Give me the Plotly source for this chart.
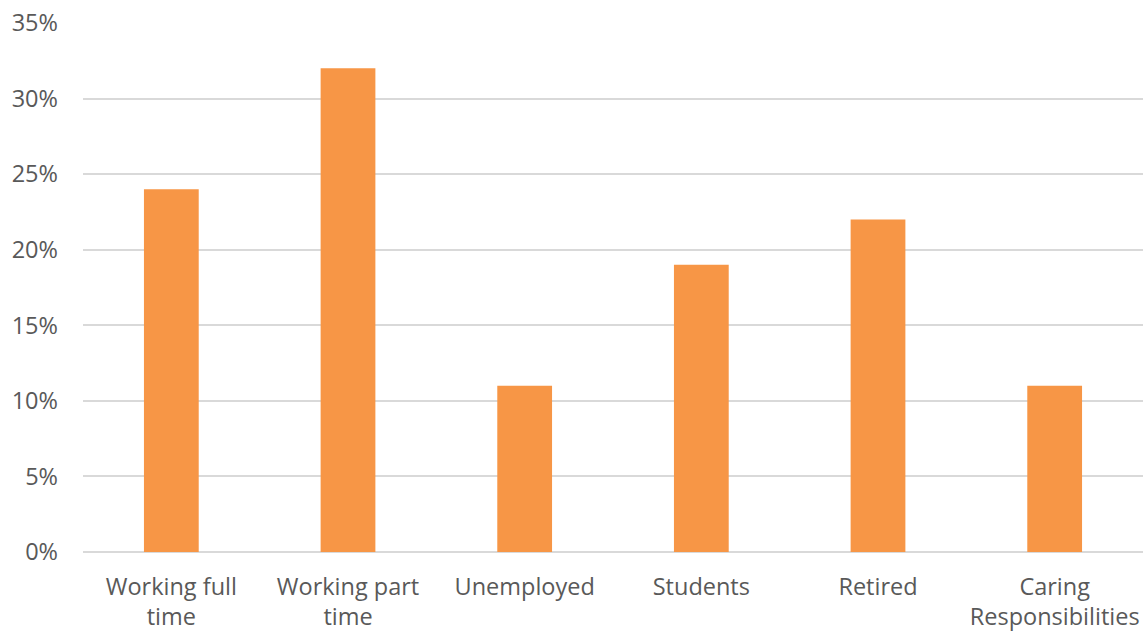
import plotly.graph_objects as go

categories = ["Working full<br>time", "Working part<br>time", "Unemployed", "Students", "Retired", "Caring<br>Responsibilities"]
values = [0.24, 0.32, 0.11, 0.19, 0.22, 0.11]
tick_vals = [0, 0.05, 0.10, 0.15, 0.20, 0.25, 0.30, 0.35]
tick_text = ["0%", "5%", "10%", "15%", "20%", "25%", "30%", "35%"]

fig = go.Figure(go.Bar(x=categories, y=values, marker=dict(color="#F79646", line=dict(width=0))))

fig.update_layout(
    width=1145, height=634,
    margin=dict(l=83, r=2, t=23, b=82),
    plot_bgcolor="white", paper_bgcolor="white",
    bargap=0.69,
    showlegend=False,
    font=dict(family="Open Sans", size=23.5, color="#595959"),
)
fig.update_yaxes(range=[0, 0.35], tickvals=tick_vals, ticktext=tick_text,
                 showgrid=True, gridcolor="#D9D9D9", gridwidth=1.5,
                 zeroline=True, zerolinecolor="#D9D9D9", zerolinewidth=1.5,
                 showline=False, ticks="", ticklabelstandoff=24)
fig.update_xaxes(showgrid=False, showline=False, ticks="", ticklabelstandoff=18)

fig.write_html("out.html")
